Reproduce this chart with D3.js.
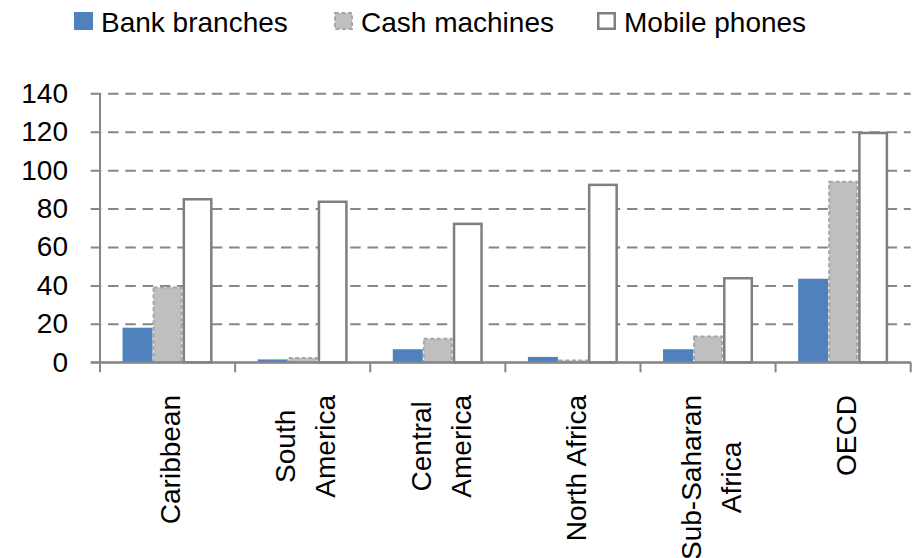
<!DOCTYPE html>
<html>
<head>
<meta charset="utf-8">
<script src="https://cdn.jsdelivr.net/npm/d3@7"></script>
<style>
  body { margin: 0; background: #fff; }
  svg { display: block; font-family: "Liberation Sans", Arial, sans-serif; }
</style>
</head>
<body>
<script>
(function(){

//chart data
var categories = [["Caribbean"], ["South", "America"], ["Central", "America"], ["North Africa"], ["Sub-Saharan", "Africa"], ["OECD"]];
var seriesNames = ["Bank branches", "Cash machines", "Mobile phones"];
var bankBranches = [18, 1.5, 6.8, 2.8, 6.8, 43.5];
var cashMachines = [39.5, 2.8, 12.8, 1.4, 14, 94.5];
var mobilePhones = [85.5, 84.2, 72.7, 93, 44.4, 120];
var yTicks = [0, 20, 40, 60, 80, 100, 120, 140];

var seriesValues = [bankBranches, cashMachines, mobilePhones];

window.onload = drawChart();

function drawChart(){

    var width = 919,
        height = 558;

    var left = 100, right = 910.7, top = 93.3, bottom = 362.3;

    var svg = d3.select("body")
        .append("svg")
        .attr("width", width)
        .attr("height", height);

    var keys = categories.map(function(d){ return d.join(" "); });

    var x0 = d3.scaleBand()
        .domain(keys)
        .range([left, right])
        .paddingInner(0.334)
        .paddingOuter(0.167);

    var x1 = d3.scaleBand()
        .domain(seriesNames)
        .range([0, x0.bandwidth()]);

    var y = d3.scaleLinear()
        .domain([0, 140])
        .range([bottom, top]);

    //gridlines + y labels
    var yAxis = svg.append("g")
        .attr("transform", "translate(" + left + ",0)")
        .call(d3.axisLeft(y).tickValues(yTicks).tickSize(0).tickPadding(32));

    yAxis.select(".domain").remove();
    yAxis.selectAll(".tick line")
        .attr("x1", -9.3)
        .attr("x2", right - left)
        .attr("stroke", "#868686")
        .attr("stroke-width", 2)
        .attr("stroke-dasharray", "10.5,6.8");
    yAxis.selectAll(".tick text")
        .attr("font-size", 28)
        .attr("font-family", "Liberation Sans, Arial, sans-serif")
        .attr("fill", "#000");
    yAxis.selectAll(".tick")
        .filter(function(d){ return d === 0; })
        .select("line")
        .attr("stroke-dasharray", null);

    //bars
    var groups = svg.selectAll(".group")
        .data(keys)
        .enter()
        .append("g")
        .attr("class", "group")
        .attr("transform", function(d){ return "translate(" + x0(d) + ",0)"; });

    var styles = [
        {fill: "#4F81BD", stroke: "none", dash: null, sw: 0},
        {fill: "#BFBFBF", stroke: "#A6A6A6", dash: "4,2.5", sw: 2},
        {fill: "#FFFFFF", stroke: "#7F7F7F", dash: null, sw: 2.5}
    ];

    groups.selectAll("rect")
        .data(function(d, i){
            return seriesNames.map(function(s, j){ return {series: s, idx: j, value: seriesValues[j][i]}; });
        })
        .enter()
        .append("rect")
        .attr("x", function(d){ return x1(d.series) + styles[d.idx].sw / 2; })
        .attr("width", function(d){ return x1.bandwidth() - styles[d.idx].sw; })
        .attr("y", function(d){ return y(d.value) + styles[d.idx].sw / 2; })
        .attr("height", function(d){ return Math.max(0, bottom - y(d.value) - styles[d.idx].sw / 2); })
        .attr("fill", function(d){ return styles[d.idx].fill; })
        .attr("stroke", function(d){ return styles[d.idx].stroke; })
        .attr("stroke-width", function(d){ return styles[d.idx].sw; })
        .attr("stroke-dasharray", function(d){ return styles[d.idx].dash; });

    //axis lines
    svg.append("line")
        .attr("x1", left).attr("x2", left)
        .attr("y1", top).attr("y2", bottom)
        .attr("stroke", "#868686").attr("stroke-width", 2);

    svg.append("line")
        .attr("x1", left - 9.3).attr("x2", right)
        .attr("y1", bottom).attr("y2", bottom)
        .attr("stroke", "#868686").attr("stroke-width", 2);

    //x ticks at category boundaries
    var bounds = keys.map(function(d){ return x0(d) - x0.step() * x0.paddingOuter(); });
    bounds.push(right);
    svg.selectAll(".xtick")
        .data(bounds)
        .enter()
        .append("line")
        .attr("x1", function(d){ return d; })
        .attr("x2", function(d){ return d; })
        .attr("y1", bottom)
        .attr("y2", bottom + 10)
        .attr("stroke", "#868686")
        .attr("stroke-width", 2);

    //x labels, rotated, lines centered, top aligned
    var labelTop = 395;
    categories.forEach(function(lines, i){
        var cx = x0(keys[i]) + x0.bandwidth() / 2 + 3;
        var texts = lines.map(function(line){
            return svg.append("text")
                .attr("font-size", 28)
                .attr("text-anchor", "middle")
                .attr("dy", "0.35em")
                .attr("fill", "#000")
                .text(line);
        });
        var maxW = d3.max(texts, function(t){ return t.node().getComputedTextLength(); });
        texts.forEach(function(t, j){
            var lx = cx + (j - (lines.length - 1) / 2) * 40;
            t.attr("transform", "translate(" + lx + "," + (labelTop + maxW / 2) + ") rotate(-90)");
        });
    });

    //legend
    var legendX = [74, 334, 597];
    var legend = svg.selectAll(".legend")
        .data(seriesNames)
        .enter()
        .append("g")
        .attr("class", "legend")
        .attr("transform", function(d, i){ return "translate(" + legendX[i] + ",0)"; });

    legend.append("rect")
        .attr("x", function(d, i){ return styles[i].sw / 2; })
        .attr("y", function(d, i){ return 12 + styles[i].sw / 2; })
        .attr("width", function(d, i){ return 19 - styles[i].sw; })
        .attr("height", function(d, i){ return 18 - styles[i].sw; })
        .attr("fill", function(d, i){ return styles[i].fill; })
        .attr("stroke", function(d, i){ return styles[i].stroke; })
        .attr("stroke-width", function(d, i){ return styles[i].sw; })
        .attr("stroke-dasharray", function(d, i){ return styles[i].dash; });

    legend.append("text")
        .attr("x", 27)
        .attr("y", 32)
        .attr("font-size", 28)
        .attr("fill", "#000")
        .text(function(d){ return d; });
};

})();
</script>
</body>
</html>
